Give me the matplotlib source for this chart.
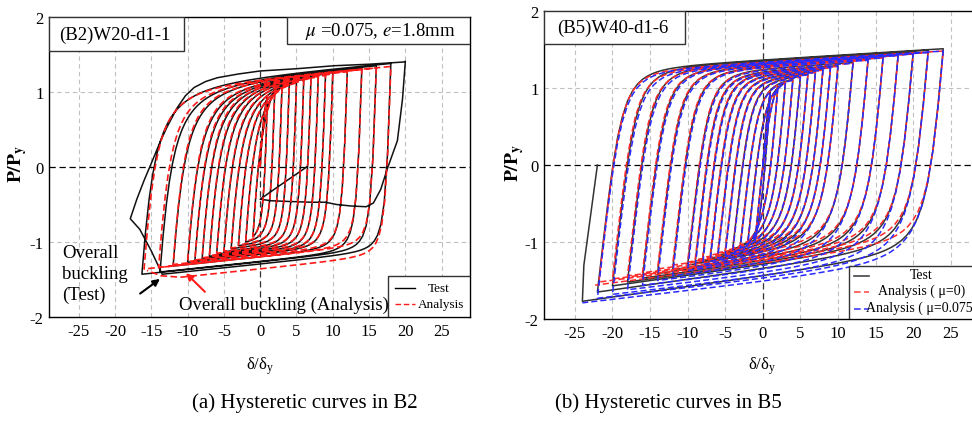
import numpy as np
import matplotlib
matplotlib.use('Agg')
import matplotlib.pyplot as plt
from matplotlib.patches import Rectangle
from matplotlib.lines import Line2D

plt.rcParams['font.family'] = ['Liberation Serif', 'DejaVu Serif']
plt.rcParams['mathtext.fontset'] = 'stix'
plt.rcParams['axes.unicode_minus'] = False

# ---------------- data ----------------
# (a) B2 : cycle peaks (delta/delta_y , P/P_y)
b2_test_pos = [1, 2, 3, 4, 5, 6, 7, 8, 9, 10, 12, 14, 16, 18]
b2_test_posP = [0.95, 1.02, 1.07, 1.11, 1.14, 1.17, 1.20, 1.22, 1.24, 1.26, 1.29, 1.32, 1.35, 1.38]
b2_test_neg = [-1, -2, -3, -4, -5, -6, -7, -8, -9, -10, -12, -13.8, -16.3, -13.5]
b2_test_negP = [-0.93, -1.0, -1.05, -1.09, -1.13, -1.16, -1.19, -1.22, -1.25, -1.27, -1.32, -1.40, -1.43, -1.43]
# test after overall buckling: drop, reload to +20, final unloading
b2_test_tail_x = [-15.0, -16.6, -17.9, -17.0, -16.0, -15.0, -13.8, -12.9, -11.5, -10.3, -9.1, -7.5, -5.9,
                  -3.0, 0.0, 5.0, 10.2, 15.0, 19.8, 20.0, 19.6, 18.9, 17.6, 16.6, 15.6, 14.6, 12.5,
                  10.5, 9.0, 7.0, 4.0, 1.5, 0.0, 2.2, 4.3, 6.4]
b2_test_tail_y = [-1.12, -0.83, -0.69, -0.43, -0.18, 0.05, 0.33, 0.52, 0.78, 0.95, 1.06, 1.14, 1.19,
                  1.24, 1.28, 1.31, 1.35, 1.37, 1.40, 1.41, 0.90, 0.35, 0.0, -0.30, -0.48, -0.53, -0.52,
                  -0.50, -0.47, -0.47, -0.46, -0.45, -0.43, -0.28, -0.14, 0.0]

b2_ana_pos = [1, 2, 3, 4, 5, 6, 7, 8, 9, 10, 12, 14, 16, 18]
b2_ana_posP = [0.93, 1.0, 1.05, 1.09, 1.12, 1.15, 1.18, 1.20, 1.22, 1.24, 1.27, 1.30, 1.32, 1.34]
b2_ana_neg = [-1, -2, -3, -4, -5, -6, -7, -8, -9, -10, -12, -14, -16, -11]
b2_ana_negP = [-0.93, -0.99, -1.04, -1.08, -1.12, -1.15, -1.18, -1.21, -1.24, -1.26, -1.30, -1.34, -1.36, -1.47]
b2_ana_tail_x = [-13.7, -15.6]
b2_ana_tail_y = [-1.45, -1.38]

# (b) B5
b5_pos = [1, 2, 3, 4, 5, 6, 7, 8, 9, 10, 12, 14, 16, 18, 20, 22, 24]
b5_neg = [-1, -2, -3, -4, -5, -6, -7, -8, -9, -10, -12, -14, -16, -18, -20, -22, -24]
b5_test_posP = [0.95, 1.02, 1.07, 1.11, 1.15, 1.18, 1.21, 1.24, 1.27, 1.29, 1.33, 1.37, 1.40, 1.43, 1.46, 1.49, 1.51]
b5_test_negP = [-0.95, -1.0, -1.05, -1.09, -1.13, -1.17, -1.21, -1.24, -1.27, -1.30, -1.36, -1.41, -1.47,
                -1.52, -1.57, -1.65, -1.77]
b5_test_tail_x = [-23.8, -22.0]
b5_test_tail_y = [-1.30, 0.0]

b5_mu0_neg = [-1, -2, -3, -4, -5, -6, -7, -8, -9, -10, -12, -14, -16, -18, -20, -21.8, -22.3]
b5_mu0_posP = [0.94, 1.01, 1.06, 1.10, 1.14, 1.17, 1.20, 1.23, 1.26, 1.28, 1.32, 1.36, 1.39, 1.42, 1.44, 1.46, 1.48]
b5_mu0_negP = [-0.95, -1.0, -1.04, -1.08, -1.11, -1.14, -1.17, -1.20, -1.23, -1.26, -1.30, -1.35, -1.40,
               -1.44, -1.48, -1.52, -1.56]
b5_mu075_posP = [0.94, 1.01, 1.06, 1.10, 1.14, 1.17, 1.20, 1.23, 1.26, 1.28, 1.32, 1.36, 1.39, 1.42, 1.44, 1.46, 1.48]
b5_mu075_negP = [-0.97, -1.03, -1.08, -1.13, -1.17, -1.21, -1.25, -1.29, -1.33, -1.37, -1.44, -1.50, -1.56,
                 -1.62, -1.68, -1.73, -1.79]

xticks = [-25, -20, -15, -10, -5, 0, 5, 10, 15, 20, 25]
yticks = [-2, -1, 0, 1, 2]


def branch(x0, y0, x1, y1, E, b, R, n=70):
    # smooth elasto-plastic branch between two reversal points
    xi = (y1 - y0 - b * x1 + E * x0) / (E - b)
    yi = y0 + E * (xi - x0)
    xs = np.linspace(x0, x1, n)
    xn = (xs - x0) / (xi - x0)
    bs = b / E
    yn = bs * xn + (1 - bs) * xn / (1 + np.abs(xn) ** R) ** (1.0 / R)
    ys = y0 + yn * (yi - y0)
    if abs(ys[-1] - y0) > 1e-6:
        ys = y0 + (ys - y0) * (y1 - y0) / (ys[-1] - y0)
    return xs, ys


def hysteresis(pos, posP, neg, negP, up, down, tail=None):
    X, Y = [0.0], [0.0]
    for i in range(len(pos)):
        xs, ys = branch(X[-1], Y[-1], pos[i], posP[i], *up)
        X += list(xs[1:]); Y += list(ys[1:])
        xs, ys = branch(X[-1], Y[-1], neg[i], negP[i], *down)
        X += list(xs[1:]); Y += list(ys[1:])
    if tail is not None:
        X += list(tail[0]); Y += list(tail[1])
    return X, Y


def frame(ax):
    ax.set_xlim(-29.1, 28.9)
    ax.set_ylim(-2, 2)
    ax.set_xticks(xticks)
    ax.set_yticks(yticks)
    ax.tick_params(length=0, labelsize=12, pad=4)
    for t in xticks:
        if t != 0:
            ax.axvline(t, color='#c0c0c0', lw=0.8, ls=(0, (4, 3)), zorder=0)
    for t in [-1, 1]:
        ax.axhline(t, color='#c0c0c0', lw=0.8, ls=(0, (4, 3)), zorder=0)
    ax.axhline(0, color='k', lw=0.9, ls=(0, (5, 3)), zorder=0)
    ax.axvline(0, color='#333333', lw=0.9, ls=(0, (5, 3)), zorder=0)
    for s in ax.spines.values():
        s.set_linewidth(1.0)


fig = plt.figure(figsize=(9.72, 4.27), dpi=100)
ax1 = fig.add_axes([0.0504, 0.2553, 0.4331, 0.7026])
ax2 = fig.add_axes([0.5597, 0.2506, 0.4486, 0.7213])
frame(ax1)
frame(ax2)

# ---- (a) B2 ----
tx, ty = hysteresis(b2_test_pos, b2_test_posP, b2_test_neg, b2_test_negP,
                    (1.2, 0.008, 1.5), (3.0, 0.01, 2.0), (b2_test_tail_x, b2_test_tail_y))
ax1.plot(tx, ty, color='#111111', lw=1.1, zorder=3)
ax_, ay_ = hysteresis(b2_ana_pos, b2_ana_posP, b2_ana_neg, b2_ana_negP,
                      (1.2, 0.008, 1.6), (3.0, 0.01, 2.0), (b2_ana_tail_x, b2_ana_tail_y))
ax1.plot(ax_, ay_, color='#ff1a1a', lw=1.2, ls=(0, (4, 2)), zorder=4)

ax1.add_patch(Rectangle((0, 0.887), 0.32, 0.113, transform=ax1.transAxes, facecolor='white',
                        edgecolor='#333333', lw=1.0, zorder=6))
ax1.text(0.025, 0.943, '(B2)W20-d1-1', transform=ax1.transAxes, fontsize=13.5, va='center', ha='left',
         zorder=7)
ax1.add_patch(Rectangle((0.565, 0.91), 0.435, 0.09, transform=ax1.transAxes, facecolor='white',
                        edgecolor='#333333', lw=1.0, zorder=6))
ax1.text(0.787, 0.955, r'$\mu$ =0.075, $e$=1.8mm', transform=ax1.transAxes, fontsize=13.5,
         va='center', ha='center', zorder=7)

# legend (a)
ax1.add_patch(Rectangle((0.805, 0.0), 0.195, 0.137, transform=ax1.transAxes, facecolor='white',
                        edgecolor='#333333', lw=1.0, zorder=6))
ax1.add_line(Line2D([0.822, 0.87], [0.097, 0.097], transform=ax1.transAxes, color='k', lw=1.0, zorder=7))
ax1.add_line(Line2D([0.822, 0.87], [0.043, 0.043], transform=ax1.transAxes, color='#ff1a1a', lw=1.0,
                    ls=(0, (4, 2)), zorder=7))
ax1.text(0.925, 0.097, 'Test', transform=ax1.transAxes, fontsize=9.5, ha='center', va='center', zorder=7)
ax1.text(0.932, 0.043, 'Analysis', transform=ax1.transAxes, fontsize=9.5, ha='center', va='center', zorder=7)

ax1.text(-27.3, -1.03, 'Overall\nbuckling\n(Test)', fontsize=13.5, ha='left', va='top', linespacing=1.3,
         zorder=7)
ax1.annotate('', xy=(-13.5, -1.47), xytext=(-16.85, -1.71),
             arrowprops=dict(arrowstyle='-|>', color='k', lw=1.5, mutation_scale=10), zorder=7)
ax1.annotate('', xy=(-10.5, -1.39), xytext=(-7.35, -1.69),
             arrowprops=dict(arrowstyle='-|>', color='#ff1a1a', lw=1.5, mutation_scale=10), zorder=7)
ax1.text(-11.2, -1.83, 'Overall buckling (Analysis)', fontsize=13.5, ha='left', va='center', zorder=7)

# ---- (b) B5 ----
tx, ty = hysteresis(b5_pos, b5_test_posP, b5_neg, b5_test_negP,
                    (0.85, 0.006, 3.0), (1.1, 0.0135, 2.0), (b5_test_tail_x, b5_test_tail_y))
ax2.plot(tx, ty, color='#333333', lw=1.1, zorder=3)
rx, ry = hysteresis(b5_pos, b5_mu0_posP, b5_mu0_neg, b5_mu0_negP,
                    (0.85, 0.006, 3.0), (1.1, 0.0125, 2.0))
ax2.plot(rx, ry, color='#ff2a2a', lw=1.1, ls=(0, (4, 2)), zorder=4)
bx, by = hysteresis(b5_pos, b5_mu075_posP, b5_neg, b5_mu075_negP,
                    (0.85, 0.006, 3.0), (1.1, 0.011, 1.8))
ax2.plot(bx, by, color='#2a2aff', lw=1.1, ls=(0, (4, 2)), zorder=5)

ax2.add_patch(Rectangle((0, 0.892), 0.323, 0.108, transform=ax2.transAxes, facecolor='white',
                        edgecolor='#333333', lw=1.0, zorder=6))
ax2.text(0.03, 0.946, '(B5)W40-d1-6', transform=ax2.transAxes, fontsize=13.5, va='center', ha='left',
         zorder=7)

ax2.add_patch(Rectangle((0.70, 0.0), 0.31, 0.172, transform=ax2.transAxes, facecolor='white',
                        edgecolor='#333333', lw=1.0, zorder=6))
for yy, col, ls, lab in [(0.140, '#444444', '-', 'Test'),
                         (0.088, '#ff5050', (0, (4, 2)), 'Analysis ( \u03bc=0)'),
                         (0.033, '#4040ff', (0, (4, 2)), 'Analysis ( \u03bc=0.075)')]:
    ax2.add_line(Line2D([0.712, 0.745], [yy, yy], transform=ax2.transAxes, color=col, lw=1.2, ls=ls,
                        zorder=7))
    ax2.text(0.865, yy + 0.006, lab, transform=ax2.transAxes, fontsize=10, ha='center', va='center', zorder=7)

# axis labels and captions
for xl, yl in [(18, 164), (515, 163)]:
    fig.text(xl / 972, 1 - yl / 427, r'$\mathbf{P/P}_\mathbf{y}$', rotation=90, fontsize=14,
             ha='center', va='center')
for xl in [260, 762]:
    fig.text(xl / 972, 1 - 366 / 427, 'δ/δ$_\\mathregular{y}$', fontsize=12, ha='center', va='center')
fig.text(305 / 972, 1 - 403 / 427, '(a) Hysteretic curves in B2', fontsize=15, ha='center', va='center')
fig.text(668 / 972, 1 - 403 / 427, '(b) Hysteretic curves in B5', fontsize=15, ha='center', va='center')

fig.savefig('out.png', dpi=100)
